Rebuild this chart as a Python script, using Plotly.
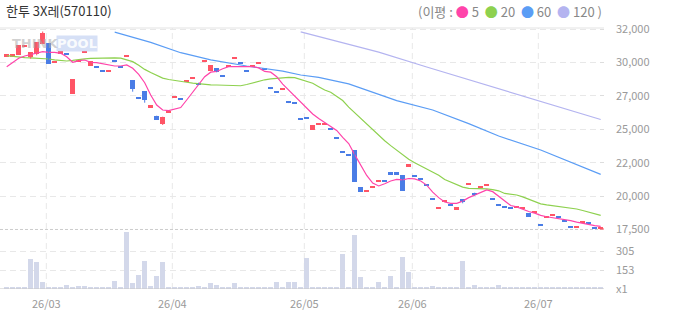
import numpy as np
import plotly.graph_objects as go

title_text = "한투 3X레(570110)"
month_labels = ["26/03", "26/04", "26/05", "26/06", "26/07"]
month_start = [7, 28, 50, 68, 89]
price_tick_labels = ["17,500", "20,000", "22,000", "25,000", "27,000", "30,000", "32,000"]
vol_tick_vals = [0, 153, 305]
vol_tick_labels = ["x1", "153", "305"]

opens = [
    30000, 30000, 30100, 30710, 29960, 30190, 30870, 30920, 29530, 30220,
    30200, 27275, 29630, 30280, 29317, 29250, 29006, 28880, 29680, 29290,
    29970, 28285, 27010, 27491, 26287, 25710, 25111, 25950, 27030, 26960,
    28160, 28360, 28090, 29580, 28956, 29129, 28620, 29250, 29800, 29540,
    28980, 29244, 29440, 29100, 27730, 27450, 27560, 26720, 26650, 25500,
    25594, 24678, 25040, 25060, 24780, 24130, 23141, 22900, 23235, 20544,
    20230, 20490, 20950, 21050, 21648, 21648, 21432, 22030, 21390, 21170,
    20760, 19750, 18980, 19500, 19320, 18907, 19700, 20710, 20155, 20490,
    20640, 19730, 19300, 19170, 19080, 19090, 19020, 18690, 18730, 17850,
    18370, 18470, 18470, 18160, 17710, 17610, 17970, 18000, 17640, 17558]
closes = [
    30100, 30100, 30780, 30810, 30280, 31030, 31690, 29460, 29630, 30320,
    30100, 28335, 29730, 30380, 29656, 29150, 28884, 28980, 29580, 29190,
    30070, 27636, 26910, 26842, 26481, 25399, 25637, 26050, 27130, 26860,
    28260, 28460, 27924, 29680, 29345, 28840, 28520, 29350, 29900, 29440,
    28880, 29367, 29540, 29000, 27630, 27350, 27660, 26620, 26550, 25400,
    25493, 25039, 25140, 25160, 24680, 24030, 23069, 22800, 20948, 20227,
    20330, 20590, 21050, 20950, 21453, 21453, 20299, 22225, 21290, 21070,
    20660, 19650, 19080, 19600, 19220, 19102, 19505, 20810, 19989, 20590,
    20740, 19630, 19200, 19070, 18980, 19190, 19120, 18423, 18830, 17750,
    18470, 18570, 18370, 18060, 17610, 17710, 18070, 17900, 17540, 17680]
highs = [
    30100, 30100, 30780, 30810, 30280, 31030, 31784, 30920, 29630, 30320,
    30200, 28335, 29730, 30380, 29656, 29250, 29006, 28980, 29680, 29290,
    30070, 28285, 27010, 27491, 26481, 25710, 25637, 26050, 27130, 26960,
    28260, 28460, 28090, 29680, 29345, 29129, 28620, 29350, 29900, 29540,
    28980, 29367, 29540, 29100, 27730, 27450, 27660, 26720, 26650, 25500,
    25594, 25039, 25140, 25160, 24780, 24130, 23141, 22900, 23235, 20544,
    20330, 20590, 21050, 21050, 21648, 21648, 21432, 22225, 21390, 21170,
    20760, 19750, 19080, 19600, 19320, 19102, 19700, 20810, 20155, 20590,
    20740, 19730, 19300, 19170, 19080, 19190, 19120, 18690, 18830, 17850,
    18470, 18570, 18470, 18160, 17710, 17710, 18070, 18000, 17640, 17680]
lows = [
    30000, 30000, 30100, 30710, 29822, 30067, 30870, 29460, 29530, 30220,
    30100, 27275, 29630, 30280, 29317, 29150, 28884, 28880, 29580, 29190,
    29970, 27441, 26910, 26647, 26287, 25399, 25039, 25950, 27030, 26860,
    28160, 28360, 27924, 29580, 28956, 28840, 28520, 29250, 29800, 29440,
    28880, 29244, 29440, 29000, 27630, 27350, 27560, 26620, 26550, 25400,
    25493, 24678, 25040, 25060, 24680, 24030, 23069, 22800, 20948, 20227,
    20230, 20490, 20950, 20950, 21453, 21453, 20299, 22030, 21290, 21070,
    20660, 19650, 18980, 19500, 19220, 18907, 19390, 20710, 19960, 20490,
    20640, 19630, 19200, 19070, 18980, 19090, 19020, 18423, 18730, 17750,
    18370, 18470, 18370, 18060, 17610, 17610, 17970, 17900, 17540, 17558]
volumes = [
    10, 10, 19, 10, 241, 217, 56, 16, 10, 10,
    32, 10, 24, 24, 10, 10, 10, 10, 64, 10,
    460, 48, 112, 225, 24, 104, 217, 10, 16, 10,
    10, 10, 24, 10, 48, 32, 10, 10, 48, 10,
    10, 10, 10, 10, 10, 56, 16, 56, 56, 10,
    251, 16, 10, 10, 10, 10, 284, 10, 436, 99,
    10, 10, 59, 10, 107, 10, 260, 139, 10, 10,
    10, 27, 10, 10, 10, 19, 228, 10, 35, 16,
    16, 10, 35, 10, 10, 10, 10, 16, 10, 10,
    10, 10, 10, 10, 10, 10, 10, 10, 10, 10]
ma5 = [
    29244, 29533, 29850, 30016, 30110, 30211, 30327, 30283, 30283, 30211,
    29966, 29562, 29677, 29728, 29562, 29533, 29461, 29367, 29295, 29295,
    29367, 29129, 28696, 28090, 27203, 26481, 26121, 26070, 26171, 26300,
    26842, 27400, 27924, 28523, 28850, 28900, 29100, 29244, 29250, 29250,
    29250, 29244, 29160, 28900, 28850, 28523, 27990, 27550, 27100, 26650,
    26200, 25830, 25500, 25200, 24900, 24650, 24150, 23700, 22900, 22150,
    21400, 20850, 20640, 20800, 21000, 21120, 21080, 21180, 21150, 21000,
    20700, 20200, 19800, 19480, 19380, 19390, 19550, 19800, 19990, 20200,
    20350, 20230, 19900, 19560, 19230, 19130, 18950, 18800, 18680, 18520,
    18420, 18350, 18260, 18230, 18140, 18030, 17940, 17850, 17780, 17730]
ma20 = [
    30050, 29990, 29923, 29900, 29880, 29865, 29850, 29800, 29740, 29690,
    29656, 29700, 29778, 29810, 29845, 29860, 29880, 29895, 29880, 29860,
    29760, 29610, 29350, 29050, 28820, 28620, 28420, 28320, 28240, 28160,
    28120, 28060, 28010, 27970, 27930, 27924, 27924, 27924, 27924, 27870,
    27960, 28080, 28180, 28300, 28360, 28400, 28430, 28470, 28460, 28330,
    28200, 28050, 27800, 27560, 27400, 27100, 26800, 26330, 25920, 25500,
    25150, 24700, 24300, 23900, 23550, 23235, 22880, 22560, 22320, 22080,
    21900, 21600, 21420, 21100, 20900, 20700, 20560, 20472, 20472, 20450,
    20430, 20380, 20290, 20100, 20030, 19989, 19850, 19680, 19540, 19350,
    19280, 19230, 19170, 19110, 19040, 18979, 18870, 18740, 18600, 18520]
ma60_idx = [18, 24, 29, 34, 40, 43, 46, 49, 52, 57, 62, 65, 71, 77, 82, 89, 99]
ma60 = [31740, 31000, 30254, 29740, 29295, 29129, 28930, 28646, 28480, 28010,
        27253, 26800, 26121, 25140, 24245, 23235, 21480]
ma120_idx = [49, 55, 62, 70, 80, 90, 99]
ma120 = [31760, 31100, 30300, 29220, 27920, 26630, 25435]

UP, DOWN = "#ff5566", "#4a7de6"
C5, C20, C60, C120 = "#ff44aa", "#8ed14f", "#5b9df5", "#b4b4f0"
FONT = "Noto Sans CJK KR, Noto Sans, sans-serif"

n = len(opens)
idx = list(range(n))
colors = [UP if c >= o else DOWN for o, c in zip(opens, closes)]
MIN_BODY = 150
body_h, body_b = [], []
for o, c in zip(opens, closes):
    h = max(abs(c - o), MIN_BODY)
    body_h.append(h)
    body_b.append((o + c) / 2 - h / 2)

fig = go.Figure()
fig.add_trace(go.Bar(x=idx, y=volumes, yaxis="y2", marker_color="#d3d8ea",
                     marker_line_width=0, width=0.88, hoverinfo="skip"))
fig.add_trace(go.Scatter(x=ma120_idx, y=ma120, mode="lines", line=dict(color=C120, width=1.2)))
fig.add_trace(go.Scatter(x=ma60_idx, y=ma60, mode="lines", line=dict(color=C60, width=1.2)))
fig.add_trace(go.Scatter(x=idx, y=ma20, mode="lines", line=dict(color=C20, width=1.2)))
fig.add_trace(go.Scatter(x=idx, y=ma5, mode="lines", line=dict(color=C5, width=1.2)))
for col in (UP, DOWN):
    wx, wy = [], []
    for i in idx:
        if colors[i] == col:
            wx += [i, i, None]
            wy += [lows[i], highs[i], None]
    fig.add_trace(go.Scatter(x=wx, y=wy, mode="lines", line=dict(color=col, width=1)))
fig.add_trace(go.Bar(x=idx, y=body_h, base=body_b, marker_color=colors,
                     marker_line_width=0, width=0.8))

price_ticks = list(np.linspace(17500, 31957, len(price_tick_labels)))
grid = dict(showgrid=True, gridcolor="#e8e8e8", gridwidth=1, griddash="6px,4px")
tickfont = dict(family=FONT, size=11, color="#9a9a9a")

fig.update_layout(
    width=673, height=315, margin=dict(l=0, r=69, t=28, b=26),
    paper_bgcolor="white", plot_bgcolor="white", showlegend=False,
    barmode="overlay", bargap=0,
    xaxis=dict(range=[-1.117, 99.55], tickvals=[m - 0.4 for m in month_start],
               ticktext=month_labels, showgrid=False, zeroline=False, showline=False,
               ticks="", tickfont=tickfont, anchor="y2", ticklabelstandoff=7),
    yaxis=dict(domain=[0.228, 1], range=[17500, 32036], side="right",
               tickvals=price_ticks, ticktext=price_tick_labels, zeroline=False,
               ticks="inside", ticklen=4, tickcolor="#dddddd", tickfont=tickfont,
               ticklabelstandoff=11, **grid),
    yaxis2=dict(domain=[0, 0.2184], range=[0, 460], side="right", anchor="x",
                tickvals=vol_tick_vals, ticktext=vol_tick_labels, zeroline=False,
                ticks="inside", ticklen=4, tickcolor="#dddddd", tickfont=tickfont,
                ticklabelstandoff=11, **grid),
)

shapes = []
for m in month_start:
    shapes.append(dict(type="line", xref="x", yref="paper", x0=m - 0.4, x1=m - 0.4,
                       y0=0, y1=1, layer="below",
                       line=dict(color="#e8e8e8", width=1, dash="6px,4px")))
shapes.append(dict(type="line", xref="paper", yref="paper", x0=0, x1=1, y0=1, y1=1,
                   line=dict(color="#e3e3e3", width=1)))
shapes.append(dict(type="line", xref="paper", yref="y", x0=0, x1=1, y0=17500, y1=17500,
                   line=dict(color="#9a9a9a", width=1, dash="3px,2px")))
shapes.append(dict(type="line", xref="paper", yref="y2", x0=0, x1=1, y0=0, y1=0,
                   line=dict(color="#c8c8c8", width=1)))
shapes.append(dict(type="line", xref="paper", yref="y", x0=0.993, x1=1.0, y0=17500, y1=17500,
                   line=dict(color=UP, width=2)))
fig.update_layout(shapes=shapes)

legend_html = ("(이평 : <span style='color:%s'>●</span> 5  <span style='color:%s'>●</span> 20  "
               "<span style='color:%s'>●</span> 60  <span style='color:%s'>●</span> 120 )") % (C5, C20, C60, C120)
fig.add_annotation(xref="paper", yref="paper", x=0.0066, y=(289 - 11) / 261, xanchor="left",
                   yanchor="middle", text=title_text, showarrow=False,
                   font=dict(family=FONT, size=13, color="#333333"))
fig.add_annotation(xref="paper", yref="paper", x=1.0, y=(289 - 12) / 261, xanchor="right",
                   yanchor="middle", text=legend_html, showarrow=False,
                   font=dict(family=FONT, size=13, color="#888888"))
fig.add_annotation(xref="paper", yref="paper", x=10 / 604, y=(289 - 44) / 261, xanchor="left",
                   yanchor="middle", text="<b>THINK</b>", showarrow=False,
                   font=dict(family="DejaVu Sans", size=13, color="rgba(170,170,170,0.55)"))
fig.add_annotation(xref="paper", yref="paper", x=56 / 604, y=(289 - 44) / 261, xanchor="left",
                   yanchor="middle", text="<b>POOL</b>", showarrow=False, borderpad=0,
                   bgcolor="rgba(180,198,238,0.55)",
                   font=dict(family="DejaVu Sans", size=13, color="rgba(255,255,255,0.9)"))

fig.write_html("out.html")
